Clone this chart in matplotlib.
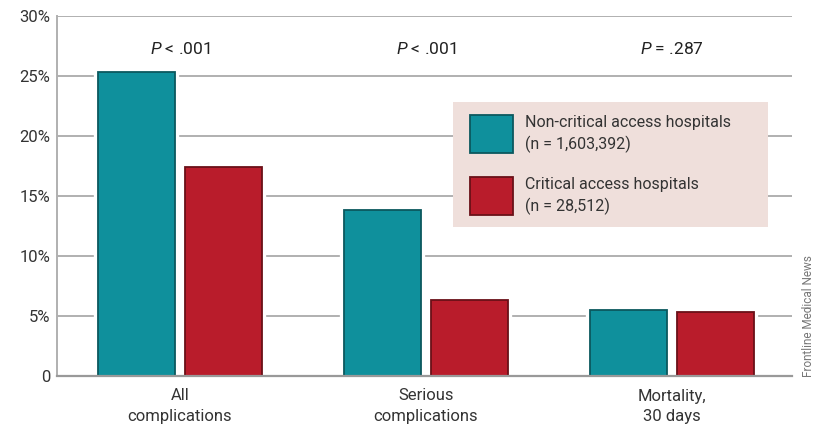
import matplotlib
matplotlib.use("Agg")
import matplotlib.pyplot as plt
from matplotlib.patches import Rectangle
import numpy as np

categories = ["All\ncomplications", "Serious\ncomplications", "Mortality,\n30 days"]
non_critical = [25.3, 13.8, 5.5]
critical = [17.4, 6.3, 5.3]
p_values = ["$\\it{P}$ < .001", "$\\it{P}$ < .001", "$\\it{P}$ = .287"]
series_labels = ["Non-critical access hospitals\n(n = 1,603,392)",
                 "Critical access hospitals\n(n = 28,512)"]
yticks = [0, 5, 10, 15, 20, 25, 30]
ytick_labels = ["0", "5%", "10%", "15%", "20%", "25%", "30%"]

teal, teal_edge = "#0f909c", "#0b585e"
red, red_edge = "#b91c2b", "#6a1018"
text_col = "#333333"
grid_col = "#b0b0b0"

plt.rcParams["font.family"] = ["Roboto", "DejaVu Sans"]
plt.rcParams["mathtext.fontset"] = "custom"
plt.rcParams["mathtext.it"] = "Roboto:italic"
plt.rcParams["mathtext.rm"] = "Roboto"

fig = plt.figure(figsize=(8.17, 4.37), dpi=100)
ax = fig.add_axes([57 / 817, 1 - 376 / 437, (792 - 57) / 817, (376 - 16) / 437])

x = np.arange(len(categories))
w = 0.313
off = 0.177

for ypos in yticks[1:]:
    ax.axhline(ypos, color=grid_col, lw=1.4, zorder=0)

# white halo filling the gap between the paired bars
group_low = np.minimum(non_critical, critical)
ax.bar(x, group_low, width=2 * off, color="white", edgecolor="none", zorder=1)

for vals, dx, fc, ec in [(non_critical, -off, teal, teal_edge),
                         (critical, off, red, red_edge)]:
    ax.bar(x + dx, vals, width=w, color="white", edgecolor="white",
           linewidth=6, zorder=1)
    ax.bar(x + dx, vals, width=w, color=fc, edgecolor=ec, linewidth=1.3,
           zorder=2)

for xi, p in zip(x, p_values):
    ax.text(xi, 27.25, p, ha="center", va="center", fontsize=12.5,
            color="#222222")

ax.set_xlim(-0.5, 2.49)
ax.set_ylim(0, 30)
ax.set_yticks(yticks)
ax.set_yticklabels(ytick_labels)
ax.set_xticks(x)
ax.set_xticklabels(categories, linespacing=1.5)
ax.tick_params(axis="both", length=0, labelsize=12, colors=text_col)
ax.tick_params(axis="y", pad=5)
ax.tick_params(axis="x", pad=9)
for s in ["top", "right"]:
    ax.spines[s].set_visible(False)
ax.spines["left"].set_color(grid_col)
ax.spines["left"].set_linewidth(1.4)
ax.spines["bottom"].set_color("#999999")
ax.spines["bottom"].set_linewidth(1.6)
ax.spines["bottom"].set_zorder(3)

# legend panel
def fx(px):
    return px / 817

def fy(py):
    return 1 - py / 437

fig.patches.append(Rectangle((fx(453), fy(227)), fx(768) - fx(453),
                             fy(102) - fy(227), transform=fig.transFigure,
                             facecolor="#efdfdb", edgecolor="none", zorder=5))
for (top, bot), fc, ec, lab in [((115, 153), teal, teal_edge, series_labels[0]),
                                ((177, 215), red, red_edge, series_labels[1])]:
    fig.patches.append(Rectangle((fx(470), fy(bot)), fx(513) - fx(470),
                                 fy(top) - fy(bot), transform=fig.transFigure,
                                 facecolor=fc, edgecolor=ec, lw=1.3, zorder=6))
    fig.text(fx(525), fy((top + bot) / 2), lab, ha="left", va="center",
             fontsize=11.5, color=text_col, linespacing=1.45, zorder=7)

fig.text(fx(809), fy(316), "Frontline Medical News", rotation=90,
         ha="center", va="center", fontsize=8.5, color="#777777")

fig.savefig("out.png", dpi=100, facecolor="white")
